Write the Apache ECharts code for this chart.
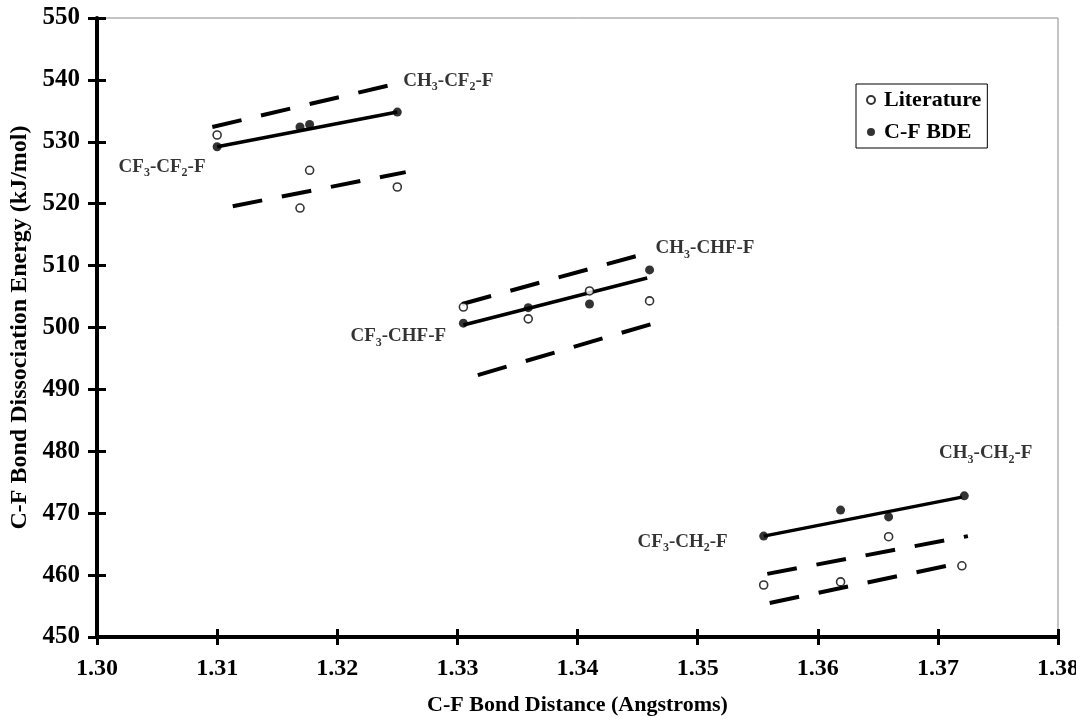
<!DOCTYPE html>
<html><head><meta charset="utf-8">
<script src="https://cdn.jsdelivr.net/npm/echarts@6/dist/echarts.min.js"></script>
<style>html,body{margin:0;padding:0;background:#fff}#c{width:1076px;height:719px}</style>
</head><body><div id="c"></div>
<script>
// Literature values (open circles)
var literature = [[1.31,531.1],[1.3169,519.3],[1.3177,525.4],[1.325,522.7],
  [1.3305,503.3],[1.3359,501.4],[1.341,505.9],[1.346,504.3],
  [1.3555,458.4],[1.3619,458.9],[1.3659,466.2],[1.372,461.5]];
// C-F BDE values (filled circles)
var bde = [[1.31,529.2],[1.3169,532.4],[1.3177,532.8],[1.325,534.8],
  [1.3305,500.7],[1.3359,503.2],[1.341,503.8],[1.346,509.3],
  [1.3555,466.3],[1.3619,470.5],[1.3659,469.4],[1.3722,472.8]];
// fitted lines (solid) and bounds (dashed)
var fitCF2 = [[1.31,529.2],[1.325,534.8]];
var upCF2 = [[1.3096,532.4],[1.3245,539.2]];
var loCF2 = [[1.3113,519.6],[1.3257,525.1]];
var fitCHF = [[1.3305,500.4],[1.3458,508.0]];
var upCHF = [[1.3304,503.8],[1.3450,511.6]];
var loCHF = [[1.3317,492.3],[1.3464,500.7]];
var fitCH2 = [[1.3555,466.3],[1.3720,472.6]];
var upCH2 = [[1.3558,460.2],[1.3725,466.3]];
var loCH2 = [[1.3560,455.5],[1.3710,461.6]];
// molecule labels: [x, y] anchor (left-middle) and text
var labelAnchors = [[1.3255,539.8],[1.3018,525.9],[1.3465,512.7],[1.3211,498.5],[1.3701,479.6],[1.3450,465.3]];
var labelTexts = ['{m|CH}{s|3}{m|-CF}{s|2}{m|-F}','{m|CF}{s|3}{m|-CF}{s|2}{m|-F}',
  '{m|CH}{s|3}{m|-CHF-F}','{m|CF}{s|3}{m|-CHF-F}',
  '{m|CH}{s|3}{m|-CH}{s|2}{m|-F}','{m|CF}{s|3}{m|-CH}{s|2}{m|-F}'];
var xTicks = {min:1.30, max:1.38, interval:0.01};
var yTicks = {min:450, max:550, interval:10};

var FONT = 'Liberation Serif';
var chart = echarts.init(document.getElementById('c'));
function solid(d){return {type:'line',data:d,symbol:'none',silent:true,z:3,
  lineStyle:{color:'#000',width:3.5,type:'solid'}};}
function dashed(d){return {type:'line',data:d,symbol:'none',silent:true,z:3,
  lineStyle:{color:'#000',width:4,type:[30,20],cap:'butt'}};}
var labelData = labelAnchors.map(function(p,i){
  return {value:p, label:{formatter:labelTexts[i]}};
});
var rich = {
  m:{fontFamily:FONT,fontWeight:'bold',fontSize:19,color:'#000',lineHeight:20,verticalAlign:'top'},
  s:{fontFamily:FONT,fontWeight:'bold',fontSize:12,color:'#000',lineHeight:12,padding:[10,0,0,0],verticalAlign:'top'}
};
var baseX = {type:'value',min:xTicks.min,max:xTicks.max,interval:xTicks.interval,splitLine:{show:false}};
var baseY = {type:'value',min:yTicks.min,max:yTicks.max,interval:yTicks.interval,splitLine:{show:false}};
chart.setOption({
  animation:false,
  backgroundColor:'#fff',
  grid:{left:97,right:18,top:18,bottom:82,show:true,borderColor:'#888',borderWidth:1,
    backgroundColor:'transparent',containLabel:false,outerBoundsMode:'none'},
  legend:{
    data:['Literature','C-F BDE'],orient:'vertical',left:856,top:84,
    itemWidth:8,itemHeight:8,itemGap:8,padding:[4,6,4,10],
    borderColor:'#000',borderWidth:1,backgroundColor:'#fff',
    textStyle:{fontFamily:FONT,fontWeight:'bold',fontSize:22,lineHeight:24,color:'#000',padding:[0,0,0,4]}
  },
  xAxis:[
    Object.assign({},baseX,{position:'bottom',
      name:'C-F Bond Distance (Angstroms)',nameLocation:'middle',nameGap:57,
      nameTextStyle:{fontFamily:FONT,fontWeight:'bold',fontSize:22,color:'#000'},
      axisLine:{show:true,onZero:false,lineStyle:{color:'#000',width:4}},
      axisTick:{show:true,inside:false,length:8,lineStyle:{color:'#000',width:3}},
      axisLabel:{margin:20,fontFamily:FONT,fontWeight:'bold',fontSize:24,color:'#000',
        formatter:function(v){return v.toFixed(2);}}}),
    Object.assign({},baseX,{position:'bottom',
      axisLine:{show:false},axisLabel:{show:false},
      axisTick:{show:true,inside:true,length:8,lineStyle:{color:'#000',width:3}}})
  ],
  yAxis:[
    Object.assign({},baseY,{position:'left',
      name:'C-F Bond Dissociation Energy (kJ/mol)',nameLocation:'middle',nameGap:60,
      nameTextStyle:{fontFamily:FONT,fontWeight:'bold',fontSize:24,color:'#000'},
      axisLine:{show:true,onZero:false,lineStyle:{color:'#000',width:4}},
      axisTick:{show:true,inside:false,length:9,lineStyle:{color:'#000',width:3}},
      axisLabel:{margin:17,fontFamily:FONT,fontWeight:'bold',fontSize:25,color:'#000'}}),
    Object.assign({},baseY,{position:'left',
      axisLine:{show:false},axisLabel:{show:false},
      axisTick:{show:true,inside:true,length:9,lineStyle:{color:'#000',width:3}}})
  ],
  series:[
    solid(fitCF2),dashed(upCF2),dashed(loCF2),
    solid(fitCHF),dashed(upCHF),dashed(loCHF),
    solid(fitCH2),dashed(upCH2),dashed(loCH2),
    {name:'Literature',type:'scatter',data:literature,symbol:'circle',symbolSize:8,z:5,
      itemStyle:{color:'#fff',borderColor:'#000',borderWidth:1.6}},
    {name:'C-F BDE',type:'scatter',data:bde,symbol:'circle',symbolSize:9,z:6,
      itemStyle:{color:'#000',borderColor:'#000',borderWidth:0}},
    {type:'scatter',data:labelData,symbolSize:0,silent:true,z:7,
      label:{show:true,position:'right',distance:0,rich:rich}}
  ]
});
</script></body></html>
